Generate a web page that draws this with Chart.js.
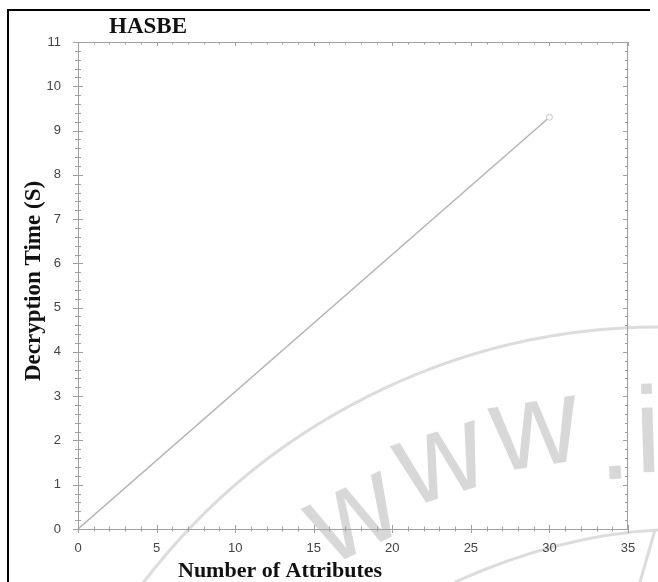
<!DOCTYPE html>
<html>
<head>
<meta charset="utf-8">
<title>HASBE</title>
<script src="https://cdn.jsdelivr.net/npm/chart.js@4"></script>
<style>
    html, body { margin: 0; padding: 0; background: #fff; }
    #wrap { position: relative; width: 658px; height: 582px; }
</style>
</head>
<body>
<div id="wrap"><canvas id="decChart" width="658" height="582"></canvas></div>
<script>
// Datos
const attributes = [0, 30];
const decryptionTime = [0, 9.3];
const xTickValues = [0, 5, 10, 15, 20, 25, 30, 35];
const yTickValues = [0, 1, 2, 3, 4, 5, 6, 7, 8, 9, 10, 11];

const chartTitle = 'HASBE';
const xTitle = 'Number of Attributes';
const yTitle = 'Decryption Time (S)';

// Marca de agua (decorativa, detrás del gráfico)
const watermarkPlugin = {
    id: 'watermark',
    beforeDraw(chart) {
        const ctx = chart.ctx;
        ctx.save();
        ctx.strokeStyle = '#dcdcdc';
        ctx.lineWidth = 3;
        ctx.beginPath();
        ctx.arc(660, 977, 650, -2.5, -1.57);
        ctx.stroke();
        ctx.beginPath();
        ctx.moveTo(455, 582);
        ctx.quadraticCurveTo(560, 535, 658, 530);
        ctx.stroke();
        ctx.beginPath();
        ctx.moveTo(655, 530);
        ctx.lineTo(640, 582);
        ctx.stroke();

        ctx.fillStyle = '#d8d8d8';
        ctx.font = '122px "Liberation Sans", Arial, sans-serif';
        ctx.textAlign = 'center';
        ctx.textBaseline = 'alphabetic';
        const letters = [
            ['w', 355, 520, -0.45],
            ['w', 442, 465, -0.3],
            ['w', 536, 435, -0.15],
            ['.', 614, 448, -0.05],
            ['i', 648, 441, -0.03]
        ];
        letters.forEach(([ch, x, y, a]) => {
            ctx.save();
            ctx.translate(x, y);
            ctx.rotate(a);
            ctx.fillText(ch, 0, 31);
            ctx.restore();
        });
        ctx.restore();
    }
};

// Ticks mayores y menores en los cuatro lados, textos y marco
const framePlugin = {
    id: 'frame',
    afterDraw(chart) {
        const ctx = chart.ctx;
        const xs = chart.scales.x;
        const ys = chart.scales.y;
        const a = chart.chartArea;
        ctx.save();
        ctx.strokeStyle = '#a0a0a0';
        ctx.lineWidth = 1;
        ctx.beginPath();
        // bordes superior y derecho
        ctx.moveTo(a.left, a.top + 0.5);
        ctx.lineTo(a.right, a.top + 0.5);
        ctx.moveTo(a.right - 0.5, a.top);
        ctx.lineTo(a.right - 0.5, a.bottom);
        for (let v = 0; v <= 35; v++) {
            const px = Math.round(xs.getPixelForValue(v)) + 0.5;
            const len = v % 5 === 0 ? 4 : 2.5;
            ctx.moveTo(px, a.bottom - len);
            ctx.lineTo(px, a.bottom + len);
            ctx.moveTo(px, a.top);
            ctx.lineTo(px, a.top + len);
        }
        for (let i = 0; i <= 55; i++) {
            const v = i / 5;
            const py = Math.round(ys.getPixelForValue(v)) + 0.5;
            const len = i % 5 === 0 ? 5 : 3;
            ctx.moveTo(a.left - len, py);
            ctx.lineTo(a.left + len, py);
            ctx.moveTo(a.right, py);
            ctx.lineTo(a.right - len, py);
        }
        ctx.stroke();

        // Títulos
        ctx.fillStyle = '#111';
        ctx.textBaseline = 'alphabetic';
        ctx.font = 'bold 23px "Liberation Serif", "Times New Roman", serif';
        ctx.textAlign = 'center';
        ctx.fillText(chartTitle, 148, 33);
        ctx.font = 'bold 22px "Liberation Serif", "Times New Roman", serif';
        ctx.textAlign = 'left';
        ctx.fillText(xTitle, 178, 577);
        ctx.save();
        ctx.translate(40, 281);
        ctx.rotate(-Math.PI / 2);
        ctx.textAlign = 'center';
        ctx.font = 'bold 23px "Liberation Serif", "Times New Roman", serif';
        ctx.fillText(yTitle, 0, 0);
        ctx.restore();

        // Marco negro
        ctx.strokeStyle = '#000';
        ctx.lineWidth = 2;
        ctx.beginPath();
        ctx.moveTo(8, 582);
        ctx.lineTo(8, 10);
        ctx.lineTo(650, 10);
        ctx.stroke();
        ctx.restore();
    }
};

const tickFont = { family: '"Liberation Sans", Arial, sans-serif', size: 13 };

const ctx = document.getElementById('decChart').getContext('2d');
const decChart = new Chart(ctx, {
    type: 'line',
    data: {
        datasets: [{
            label: chartTitle,
            data: attributes.map((x, i) => ({ x: x, y: decryptionTime[i] })),
            borderColor: '#b4b4b4',
            borderWidth: 1.5,
            pointRadius: [0, 3],
            pointBorderColor: '#c4c4c4',
            pointBackgroundColor: '#fff',
            pointBorderWidth: 1,
            tension: 0
        }]
    },
    options: {
        responsive: false,
        animation: false,
        layout: { padding: { top: 42, right: 30, left: 0, bottom: 0 } },
        plugins: {
            legend: { display: false },
            title: { display: false },
            tooltip: { enabled: false }
        },
        scales: {
            x: {
                type: 'linear',
                min: 0,
                max: 35,
                afterBuildTicks: (scale) => { scale.ticks = xTickValues.map(v => ({ value: v })); },
                afterFit: (scale) => { scale.height = 53; },
                grid: { display: false },
                border: { display: true, color: '#a0a0a0', width: 1 },
                ticks: { color: '#444', font: tickFont, padding: 4, maxRotation: 0 }
            },
            y: {
                type: 'linear',
                min: 0,
                max: 11,
                afterBuildTicks: (scale) => { scale.ticks = yTickValues.map(v => ({ value: v })); },
                afterFit: (scale) => { scale.width = 78; },
                grid: { display: false },
                border: { display: true, color: '#a0a0a0', width: 1 },
                ticks: { color: '#444', font: tickFont, padding: 9 }
            }
        }
    },
    plugins: [watermarkPlugin, framePlugin]
});
</script>
</body>
</html>
